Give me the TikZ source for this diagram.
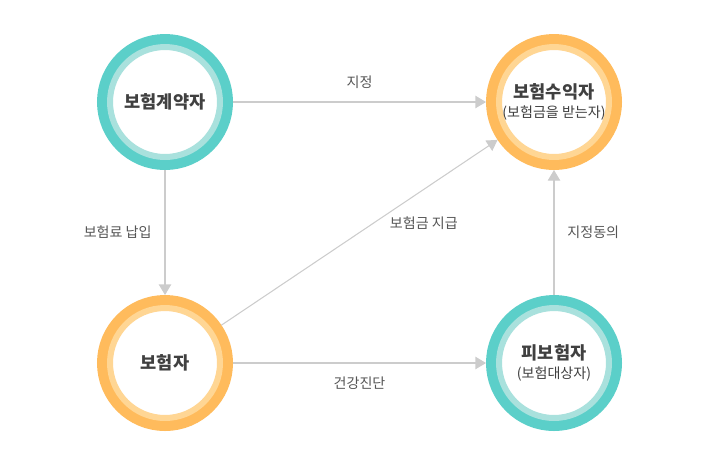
\documentclass[tikz,border=0pt]{standalone}
\usepackage{fontspec}
\setmainfont{Noto Sans CJK KR}
\usetikzlibrary{arrows.meta}
\definecolor{tealout}{HTML}{5BCFC9}
\definecolor{tealin}{HTML}{A9E1DD}
\definecolor{orgout}{HTML}{FFBB5C}
\definecolor{orgin}{HTML}{FFD694}
\definecolor{linegray}{HTML}{CCCCCC}
\definecolor{txtgray}{HTML}{555555}
\tikzset{
  party/.style 2 args={circle, minimum size=2.2cm, inner sep=0pt, outer sep=0.26cm,
    fill=white, draw=#2, line width=0.12cm,
    preaction={draw=#1, line width=0.52cm}, align=center, text=black!75},
  flow/.style={draw=linegray, line width=0.6pt, -{Triangle[length=6pt,width=7pt]}},
  lbl/.style={font=\footnotesize, text=txtgray}
}
\begin{document}
\begin{tikzpicture}[x=0.02cm,y=-0.02cm]
\useasboundingbox (0,0) rectangle (719,451);
\node[party={tealout}{tealin}] (owner) at (165,102) {\textbf{보험계약자}};
\node[party={orgout}{orgin}] (benef) at (554,102) {\textbf{보험수익자}\\[-1pt]{\footnotesize (보험금을 받는자)}};
\node[party={orgout}{orgin}] (insurer) at (165,363) {\textbf{보험자}};
\node[party={tealout}{tealin}] (insured) at (554,363) {\textbf{피보험자}\\[-1pt]{\footnotesize (보험대상자)}};
\draw[flow] (owner) -- node[lbl, above=4pt] {지정} (benef);
\draw[flow] (owner) -- node[lbl, left=4pt] {보험료 납입} (insurer);
\draw[flow] (insurer) -- node[lbl, pos=0.6, below right, xshift=-2pt, yshift=2pt] {보험금 지급} (benef);
\draw[flow] (insurer) -- node[lbl, below=4pt] {건강진단} (insured);
\draw[flow] (insured) -- node[lbl, right=4pt] {지정동의} (benef);
\end{tikzpicture}
\end{document}
